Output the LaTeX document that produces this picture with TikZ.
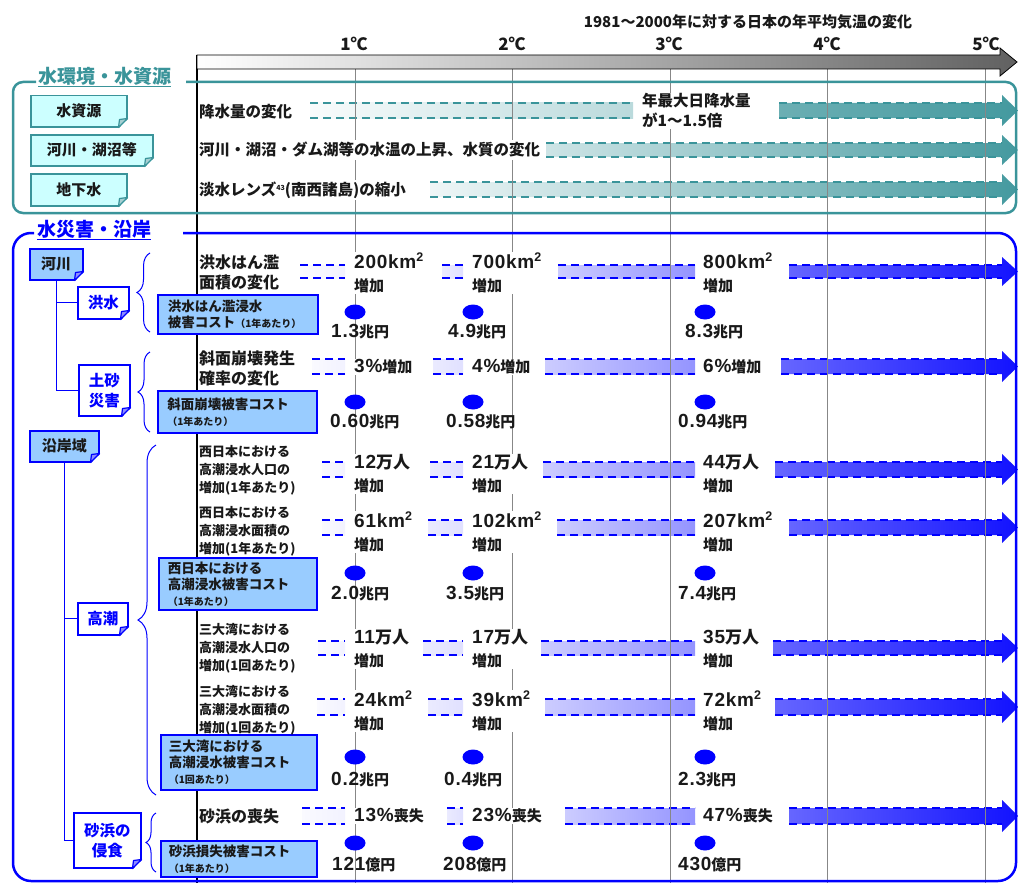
\documentclass[tikz,border=0pt]{standalone}
\usepackage{fontspec}
\setmainfont{Noto Sans CJK JP}
\newfontfamily\arf[LetterSpace=4]{Liberation Sans}
\usetikzlibrary{decorations.pathreplacing}
\definecolor{tealc}{RGB}{58,148,154}
\definecolor{boxcyan}{RGB}{204,255,255}
\definecolor{boxblue}{RGB}{153,204,255}
\definecolor{bluec}{RGB}{0,0,255}
\definecolor{gridc}{RGB}{135,135,135}
\definecolor{txt}{RGB}{25,25,25}
\newcommand\fsz[2]{\fontsize{#1}{#2}\selectfont}
\newcommand\vn[1]{{\arf\fontsize{19}{23}\selectfont #1}}
\newcommand\sq{\raisebox{6.5pt}{\arf\fontsize{12.5}{13}\selectfont 2}}
\newcommand\seg[7]{%
  \shade[left color=#5!#6!white,right color=#5!#7!white] (#1,#3) rectangle (#2,#4);
  \draw[#5,line width=1.4pt,dash pattern=on 8pt off 5pt] (#1,#3) -- (#2,#3) (#1,#4) -- (#2,#4);}
\newcommand\arr[6]{%
  \shade[left color=#4!#5!white,right color=#4!#6!white] (#1,#2) -- (1002,#2) -- (1002,{#2-8}) -- (1018,{(#2+#3)/2}) -- (1002,{#3+8}) -- (1002,#3) -- (#1,#3) -- cycle;
  \draw[#4,line width=1.4pt,dash pattern=on 8pt off 5pt] (#1,#2) -- (1002,#2) (#1,#3) -- (1002,#3);}
\newcommand\fold[2]{%
  \fill[white] ([xshift=-9pt,yshift=-1pt]#1.south east) -- ([xshift=1pt,yshift=-1pt]#1.south east) -- ([xshift=1pt,yshift=9pt]#1.south east) -- cycle;
  \draw[#2,line width=1.2pt,line join=round,fill=#2!45!white] ([xshift=-9pt]#1.south east) -- ([yshift=9pt]#1.south east) -- ([xshift=-8pt,yshift=8pt]#1.south east) -- cycle;}
\tikzset{
  tbox/.style={draw=tealc,fill=boxcyan,line width=1.5pt,anchor=north west,inner sep=0pt,font=\bfseries\fsz{15}{19}},
  bboxf/.style={draw=bluec,fill=boxblue,line width=1.5pt,anchor=north west,inner sep=0pt,font=\bfseries\fsz{15}{19}},
  bboxw/.style={draw=bluec,fill=white,line width=1.5pt,anchor=north west,inner sep=0pt,align=center,text=bluec,font=\bfseries\fsz{15.5}{20}},
  cbox/.style={draw=bluec,fill=boxblue,line width=1.5pt,anchor=north west,inner sep=0pt,align=left,text width=140pt,font=\bfseries\fsz{13.5}{16}},
  rlab/.style={anchor=west,fill=white,inner xsep=1pt,inner ysep=2pt,font=\bfseries\fsz{15.5}{20}},
  llab/.style={anchor=west,inner sep=1pt,align=left,font=\bfseries\fsz{16}{20}},
  slab/.style={anchor=west,inner sep=1pt,align=left,font=\bfseries\fsz{13}{18}},
  vlab/.style={anchor=west,fill=white,inner sep=1pt,align=left,font=\bfseries\fsz{15}{23}},
  clab/.style={anchor=west,inner sep=0pt,font=\bfseries\fsz{15}{18}},
  tick/.style={font=\bfseries\fsz{17}{20}},
  grid/.style={gridc,line width=1pt},
  tree/.style={bluec,line width=1.3pt},
  brc/.style={bluec,line width=1pt,decorate},
  dotc/.style={bluec}
}
\begin{document}
\begin{tikzpicture}[x=1pt,y=-1pt,text=txt,font=\bfseries\fsz{16}{20}]
\useasboundingbox (0,0) rectangle (1018,883);
% ---- teal bars
\seg{310}{633}{103}{118}{tealc}{3}{35}
\arr{779}{103}{118}{tealc}{75}{95}
\arr{546}{143}{157}{tealc}{25}{95}
\arr{430}{182}{197}{tealc}{8}{95}
% ---- blue bars
\seg{300}{345}{265}{278}{bluec}{2}{5}\seg{442}{463}{265}{278}{bluec}{8}{12}\seg{558}{695}{265}{278}{bluec}{20}{42}\arr{789}{265}{278}{bluec}{60}{93}
\seg{312}{345}{359}{374}{bluec}{2}{5}\seg{433}{463}{359}{374}{bluec}{8}{12}\seg{545}{695}{359}{374}{bluec}{20}{42}\arr{781}{359}{374}{bluec}{60}{93}
\seg{322}{345}{462}{477}{bluec}{2}{5}\seg{430}{463}{462}{477}{bluec}{8}{12}\seg{543}{695}{462}{477}{bluec}{20}{42}\arr{775}{462}{477}{bluec}{60}{93}
\seg{322}{345}{520}{535}{bluec}{2}{5}\seg{428}{463}{520}{535}{bluec}{8}{12}\seg{557}{695}{520}{535}{bluec}{20}{42}\arr{789}{520}{535}{bluec}{60}{93}
\seg{318}{345}{641}{655}{bluec}{2}{5}\seg{423}{463}{641}{655}{bluec}{8}{12}\seg{541}{695}{641}{655}{bluec}{20}{42}\arr{773}{641}{655}{bluec}{60}{93}
\seg{317}{345}{699}{715}{bluec}{2}{5}\seg{428}{463}{699}{715}{bluec}{8}{12}\seg{545}{695}{699}{715}{bluec}{20}{42}\arr{775}{699}{715}{bluec}{60}{93}
\seg{302}{345}{808}{824}{bluec}{2}{5}\seg{447}{463}{808}{824}{bluec}{8}{12}\seg{565}{695}{808}{824}{bluec}{20}{42}\arr{789}{808}{824}{bluec}{60}{93}
% ---- grid and axis
\foreach \gx in {355,512,670,827,985} \draw[grid] (\gx,69) -- (\gx,883);
\draw[black,line width=1.3pt] (197,55) -- (197,883);
\path[draw=black,line width=0.8pt,left color=white,right color=black!62] (197,55) -- (1000,55) -- (1000,48) -- (1017,62) -- (1000,76) -- (1000,69) -- (197,69) -- cycle;
% ---- frames
\draw[tealc,line width=2.5pt,rounded corners=10pt] (36,82) -| (13,213) -| (1016,82) -- (186,82);
\draw[bluec,line width=2.5pt,rounded corners=18pt] (34,233) -| (13,881) -| (1016,233) -- (183,233);
% ---- header
\node[font=\bfseries\fsz{15}{18}] (title) at (748,22) {1981～2000年に対する日本の年平均気温の変化};
\node[tick] (t1) at (354,44) {1℃};
\node[tick] (t2) at (512,44) {2℃};
\node[tick] (t3) at (669,44) {3℃};
\node[tick] (t4) at (827,44) {4℃};
\node[tick] (t5) at (986,44) {5℃};
% ---- section titles
\node[text=tealc,font=\bfseries\fsz{19}{22},fill=white,inner sep=1pt,anchor=west] (sec1) at (37,77) {\underline{水環境・水資源}};
\node[text=bluec,font=\bfseries\fsz{19}{22},fill=white,inner sep=1pt,anchor=west] (sec2) at (36,230) {\underline{水災害・沿岸}};
% ---- teal section
\node[tbox,minimum width=96pt,minimum height=31pt] (w1) at (30,95) {水資源};
\node[tbox,minimum width=122pt,minimum height=31pt] (w2) at (30,134) {河川・湖沼等};
\node[tbox,minimum width=96pt,minimum height=32pt] (w3) at (30,173) {地下水};
\fold{w1}{tealc}\fold{w2}{tealc}\fold{w3}{tealc}
\node[rlab] (p1) at (198,112) {降水量の変化};
\node[rlab] (p2) at (198,150) {河川・湖沼・ダム湖等の水温の上昇、水質の変化};
\node[rlab] (p3) at (198,190) {淡水レンズ{\fsz{7}{8}\raisebox{5pt}{43}}(南西諸島)の縮小};
\node[anchor=west,fill=white,inner sep=1pt,align=left,font=\bfseries\fsz{15.5}{20}] (p1b) at (641,111) {年最大日降水量\\が1～1.5倍};
% ---- blue section tree
\node[bboxf,minimum width=53pt,minimum height=31pt] (kasen) at (29,248) {河川};
\node[bboxw,minimum width=51pt,minimum height=32pt] (kozui) at (77,286) {洪水};
\node[bboxw,minimum width=51pt,minimum height=51pt] (dosha) at (78,364) {土砂\\災害};
\node[bboxf,minimum width=69pt,minimum height=31pt] (engan) at (29,430) {沿岸域};
\node[bboxw,minimum width=50pt,minimum height=32pt] (takashio) at (77,602) {高潮};
\node[bboxw,minimum width=67pt,minimum height=55pt] (suna) at (73,812) {砂浜の\\侵食};
\draw[tree] (kasen.south) |- (kozui.west);
\draw[tree] (kasen.south) |- (dosha.west);
\draw[tree] (engan.south) |- (takashio.west);
\draw[tree] (engan.south) |- (suna.west);
\fold{kasen}{bluec}\fold{kozui}{bluec}\fold{dosha}{bluec}\fold{engan}{bluec}\fold{takashio}{bluec}\fold{suna}{bluec}
\draw[brc,decoration={brace,amplitude=13pt}] (150,332) -- (150,253);
\draw[brc,decoration={brace,amplitude=12pt}] (150,432) -- (150,352);
\draw[brc,decoration={brace,amplitude=18pt}] (156,795) -- (156,445);
\draw[brc,decoration={brace,amplitude=10pt}] (156,872) -- (156,813);
% ---- cost boxes
\node[cbox,minimum width=160pt,minimum height=39pt] (c1) at (157,294) {洪水はん濫浸水\\被害コスト{\fsz{10}{12}（1年あたり）}};
\node[cbox,minimum width=159pt,minimum height=42pt] (c2) at (157,390) {斜面崩壊被害コスト\\{\fsz{10}{12}（1年あたり）}};
\node[cbox,minimum width=158pt,minimum height=52pt] (c3) at (158,557) {西日本における\\高潮浸水被害コスト\\{\fsz{10}{12}（1年あたり）}};
\node[cbox,minimum width=156pt,minimum height=55pt] (c4) at (160,734) {三大湾における\\高潮浸水被害コスト\\{\fsz{10}{12}（1回あたり）}};
\node[cbox,minimum width=156pt,minimum height=36pt] (c5) at (160,840) {砂浜損失被害コスト\\{\fsz{10}{12}（1年あたり）}};
% ---- row labels
\node[llab] (q1) at (198,272) {洪水はん濫\\面積の変化};
\node[llab] (q2) at (198,368) {斜面崩壊発生\\確率の変化};
\node[slab] (q3) at (198,470) {西日本における\\高潮浸水人口の\\増加(1年あたり)};
\node[slab] (q4) at (198,531) {西日本における\\高潮浸水面積の\\増加(1年あたり)};
\node[slab] (q5) at (198,648) {三大湾における\\高潮浸水人口の\\増加(1回あたり)};
\node[slab] (q6) at (198,710) {三大湾における\\高潮浸水面積の\\増加(1回あたり)};
\node[llab] (q7) at (198,816) {砂浜の喪失};
% ---- values
\node[vlab] (v11) at (353,273) {\vn{200km}\sq\\増加};
\node[vlab] (v12) at (471,273) {\vn{700km}\sq\\増加};
\node[vlab] (v13) at (702,273) {\vn{800km}\sq\\増加};
\node[vlab] (v21) at (353,367) {\vn{3\%}増加};
\node[vlab] (v22) at (471,367) {\vn{4\%}増加};
\node[vlab] (v23) at (702,367) {\vn{6\%}増加};
\node[vlab] (v31) at (353,474) {\vn{12}{\fsz{17}{23}万人}\\増加};
\node[vlab] (v32) at (471,474) {\vn{21}{\fsz{17}{23}万人}\\増加};
\node[vlab] (v33) at (702,474) {\vn{44}{\fsz{17}{23}万人}\\増加};
\node[vlab] (v41) at (353,532) {\vn{61km}\sq\\増加};
\node[vlab] (v42) at (471,532) {\vn{102km}\sq\\増加};
\node[vlab] (v43) at (702,532) {\vn{207km}\sq\\増加};
\node[vlab] (v51) at (353,649) {\vn{11}{\fsz{17}{23}万人}\\増加};
\node[vlab] (v52) at (471,649) {\vn{17}{\fsz{17}{23}万人}\\増加};
\node[vlab] (v53) at (702,649) {\vn{35}{\fsz{17}{23}万人}\\増加};
\node[vlab] (v61) at (353,711) {\vn{24km}\sq\\増加};
\node[vlab] (v62) at (471,711) {\vn{39km}\sq\\増加};
\node[vlab] (v63) at (702,711) {\vn{72km}\sq\\増加};
\node[vlab] (v71) at (353,816) {\vn{13\%}喪失};
\node[vlab] (v72) at (471,816) {\vn{23\%}喪失};
\node[vlab] (v73) at (702,816) {\vn{47\%}喪失};
% ---- cost dots and labels
\foreach \dy in {312,402,573,757,843}
  \foreach \dx in {355,473,705}
    \fill[dotc] (\dx,\dy) ellipse [x radius=10.5pt,y radius=7.5pt];
\node[clab] (k11) at (331,332) {\vn{1.3}兆円};
\node[clab] (k12) at (448,332) {\vn{4.9}兆円};
\node[clab] (k13) at (685,332) {\vn{8.3}兆円};
\node[clab] (k21) at (330,422) {\vn{0.60}兆円};
\node[clab] (k22) at (446,422) {\vn{0.58}兆円};
\node[clab] (k23) at (678,422) {\vn{0.94}兆円};
\node[clab] (k31) at (331,594) {\vn{2.0}兆円};
\node[clab] (k32) at (446,594) {\vn{3.5}兆円};
\node[clab] (k33) at (678,594) {\vn{7.4}兆円};
\node[clab] (k41) at (331,780) {\vn{0.2}兆円};
\node[clab] (k42) at (444,780) {\vn{0.4}兆円};
\node[clab] (k43) at (678,780) {\vn{2.3}兆円};
\node[clab] (k51) at (332,865) {\vn{121}億円};
\node[clab] (k52) at (443,865) {\vn{208}億円};
\node[clab] (k53) at (678,865) {\vn{430}億円};
\end{tikzpicture}
\end{document}
